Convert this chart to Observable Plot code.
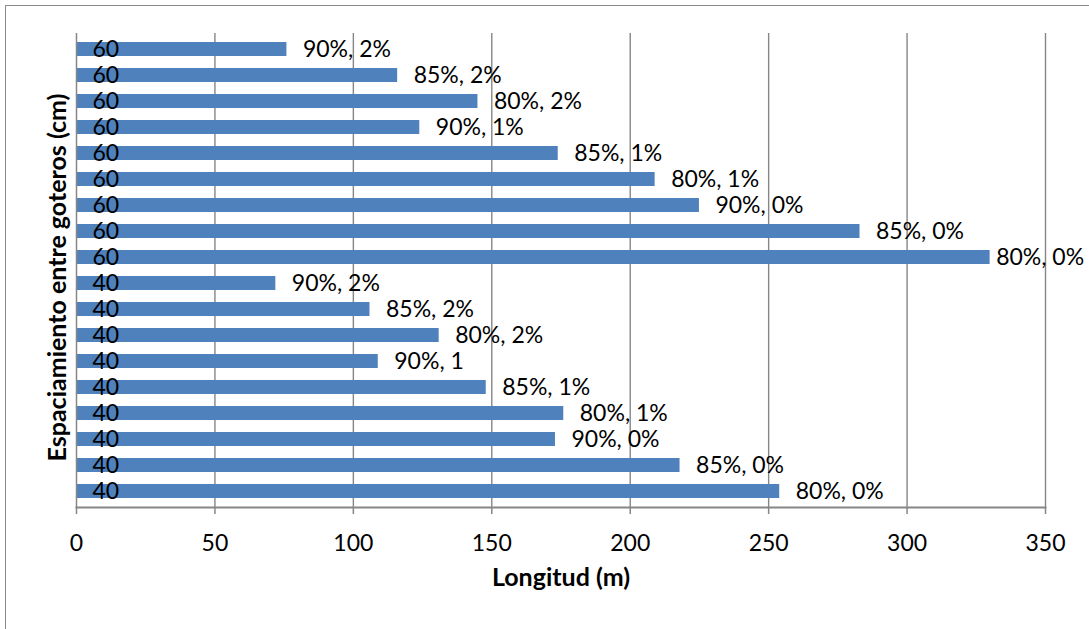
<!DOCTYPE html>
<html>
<head>
<meta charset="utf-8">
<script src="https://cdn.jsdelivr.net/npm/d3@7"></script>
<script src="https://cdn.jsdelivr.net/npm/@observablehq/plot@0.6"></script>
<style>
  html, body { margin: 0; padding: 0; background: #fff; overflow: hidden; width: 1089px; height: 629px; }
  #wrap { position: relative; width: 1089px; height: 629px; }
  #border { position: absolute; left: 5px; top: 5px; width: 1200px; height: 800px; border: 1.5px solid #8a8a8a; box-sizing: border-box; }
  #chart { position: absolute; left: 0; top: 0; }
</style>
</head>
<body>
<div id="wrap">
  <div id="border"></div>
  <div id="chart"></div>
</div>
<script>
// Drip-line length by emitter spacing, uniformity and slope (top to bottom)
const spacing = [60, 60, 60, 60, 60, 60, 60, 60, 60, 40, 40, 40, 40, 40, 40, 40, 40, 40];
const labels = [
  "90%, 2%", "85%, 2%", "80%, 2%", "90%, 1%", "85%, 1%", "80%, 1%", "90%, 0%", "85%, 0%", "80%, 0%",
  "90%, 2%", "85%, 2%", "80%, 2%", "90%, 1", "85%, 1%", "80%, 1%", "90%, 0%", "85%, 0%", "80%, 0%"
];
const lengths = [76, 116, 145, 124, 174, 209, 225, 283, 330, 72, 106, 131, 109, 148, 176, 173, 218, 254];
const xTicks = [0, 50, 100, 150, 200, 250, 300, 350];

const rows = lengths.map((v, i) => ({i, spacing: spacing[i], label: labels[i], length: v}));
// the longest bar's label sits closer to its bar so it stays inside the chart
const longest = d3.maxIndex(lengths);

const gray = "#868686";

const chart = Plot.plot({
  width: 1089,
  height: 629,
  marginLeft: 76,
  marginRight: 44,
  marginTop: 33,
  marginBottom: 122,
  style: {fontFamily: "Lato, 'Open Sans', sans-serif", fontSize: "23px", color: "#000", background: "transparent", overflow: "visible"},
  x: {domain: [0, 350], axis: null},
  y: {domain: d3.range(rows.length), paddingInner: 0.46, paddingOuter: 0.23, axis: null},
  marks: [
    Plot.gridX(xTicks.slice(1), {stroke: gray, strokeOpacity: 1, strokeWidth: 1.4}),
    Plot.barX(rows, {x: "length", y: "i", fill: "#4F81BD"}),
    Plot.ruleX([0], {stroke: gray, strokeWidth: 1.5}),
    Plot.frame({anchor: "bottom", stroke: gray, strokeWidth: 2}),
    Plot.axisX(xTicks, {
      anchor: "bottom", tickSize: 7, tickPadding: 20, stroke: gray, strokeWidth: 1.5,
      fill: "#000", fontSize: 23, label: null, tickFormat: d => String(d)
    }),
    Plot.axisY({
      anchor: "left", tickSize: 0, tickPadding: 0, textAnchor: "start", dx: 16,
      fill: "#000", fontSize: 23, label: null, tickFormat: i => String(spacing[i])
    }),
    Plot.text(rows.filter(d => d.i !== longest), {x: "length", y: "i", text: "label", textAnchor: "start", dx: 16, fill: "#000", fontSize: 23}),
    Plot.text(rows.filter(d => d.i === longest), {x: "length", y: "i", text: "label", textAnchor: "start", dx: 6, fill: "#000", fontSize: 23}),
    Plot.text(["Longitud (m)"], {frameAnchor: "bottom", dy: 78, fontWeight: "bold", fontSize: 25, fill: "#000"}),
    Plot.text(["Espaciamiento entre goteros (cm)"], {
      frameAnchor: "left", textAnchor: "middle", dx: -19, dy: 7, rotate: -90,
      fontWeight: "bold", fontSize: 25, fill: "#000"
    })
  ]
});

document.getElementById("chart").appendChild(chart);
</script>
</body>
</html>
